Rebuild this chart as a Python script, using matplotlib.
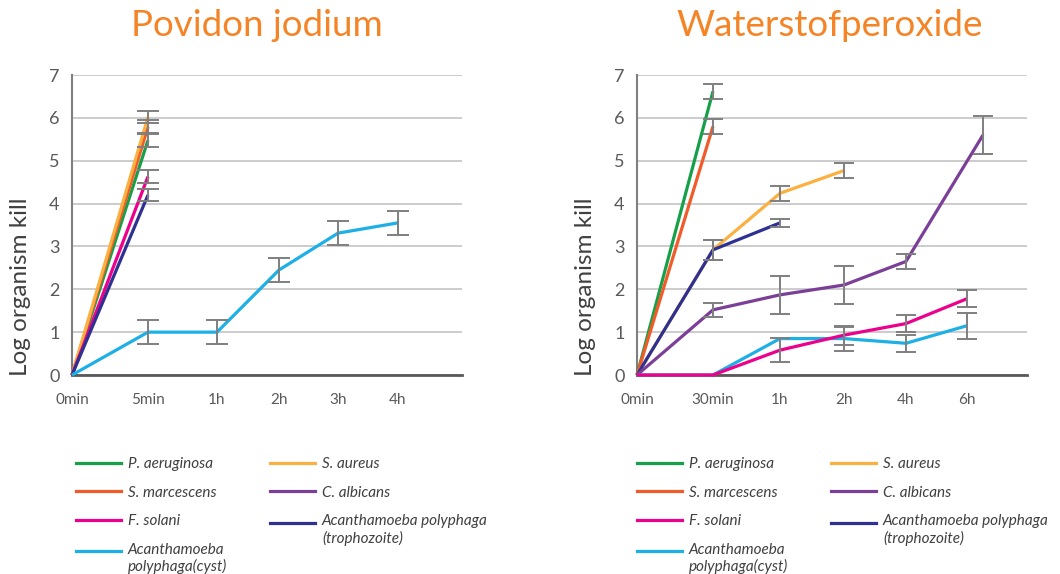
import numpy as np
import matplotlib
matplotlib.use("Agg")
import matplotlib.pyplot as plt
from matplotlib.lines import Line2D
from matplotlib.legend_handler import HandlerLine2D

plt.rcParams['font.family'] = ['Lato', 'DejaVu Sans']

# categories
left_times = ['0min', '5min', '1h', '2h', '3h', '4h']
right_times = ['0min', '30min', '1h', '2h', '4h', '6h']

# series (log kill) and error, per panel
left_aeruginosa = [0, 5.48]
left_aeruginosa_err = [0, 0.15]
left_marcescens = [0, 5.79]
left_marcescens_err = [0, 0.15]
left_solani = [0, 4.63]
left_solani_err = [0, 0.15]
left_trophozoite = [0, 4.2]
left_trophozoite_err = [0, 0.14]
left_aureus = [0, 6.02]
left_aureus_err = [0, 0.15]
left_cyst = [0, 1.0, 1.0, 2.45, 3.31, 3.55]
left_cyst_err = [0, 0.28, 0.28, 0.28, 0.28, 0.28]

right_aeruginosa = [0, 6.62]
right_aeruginosa_err = [0, 0.18]
right_marcescens = [0, 5.8]
right_marcescens_err = [0, 0.17]
right_aureus = [0, 2.92, 4.24, 4.77]
right_aureus_err = [0, 0.23, 0.17, 0.17]
right_trophozoite = [0, 2.92, 3.55]
right_trophozoite_err = [0, 0.23, 0.09]
right_albicans = [0, 1.52, 1.87, 2.1, 2.65, 5.6]
right_albicans_err = [0, 0.17, 0.44, 0.44, 0.17, 0.44]
right_solani = [0, 0, 0.58, 0.93, 1.2, 1.78]
right_solani_err = [0, 0, 0.28, 0.22, 0.2, 0.2]
right_cyst = [0, 0, 0.85, 0.85, 0.74, 1.15]
right_cyst_err = [0, 0, 0, 0.28, 0.2, 0.3]

labels = ['P. aeruginosa', 'S. marcescens', 'F. solani', 'Acanthamoeba\npolyphaga(cyst)',
          'S. aureus', 'C. albicans', 'Acanthamoeba polyphaga\n(trophozoite)']

# layout: horizontal positions of the categories (uneven spacing as in source)
left_pos = [0, 76, 145, 207, 266, 326]
right_pos = [0, 76, 143, 207, 269, 330]
albicans_last_pos = 346

c_green = '#17A04A'
c_red = '#F15A29'
c_pink = '#EC008C'
c_cyan = '#1CB0E6'
c_yellow = '#FBB040'
c_purple = '#7B3F98'
c_navy = '#2E3192'
colors = [c_green, c_red, c_pink, c_cyan, c_yellow, c_purple, c_navy]

fig = plt.figure(figsize=(10.6, 5.74), dpi=100)
W, H = 1060, 574
ax1 = fig.add_axes([72 / W, 1 - 375 / H, 390 / W, 300 / H])
ax2 = fig.add_axes([637 / W, 1 - 375 / H, 390 / W, 300 / H])


def draw(ax, x, y, err, color, cap):
    ax.plot(x, y, color=color, lw=2.3, solid_capstyle='butt', zorder=3, clip_on=False)
    x = np.array(x)[1:]
    y = np.array(y)[1:]
    e = np.array(err)[1:]
    m = e > 0
    ax.errorbar(x[m], y[m], yerr=e[m], fmt='none', ecolor='#7F7F7F', elinewidth=1.4,
                capsize=cap, capthick=1.4, zorder=4, clip_on=False)


# left panel
lp = left_pos
draw(ax1, lp[:2], left_aeruginosa, left_aeruginosa_err, c_green, 8)
draw(ax1, lp[:2], left_marcescens, left_marcescens_err, c_red, 8)
draw(ax1, lp[:2], left_aureus, left_aureus_err, c_yellow, 8)
draw(ax1, lp[:2], left_solani, left_solani_err, c_pink, 8)
draw(ax1, lp[:2], left_trophozoite, left_trophozoite_err, c_navy, 8)
draw(ax1, lp, left_cyst, left_cyst_err, c_cyan, 8)

# right panel
rp = right_pos
draw(ax2, rp[:2], right_aeruginosa, right_aeruginosa_err, c_green, 7)
draw(ax2, rp[:2], right_marcescens, right_marcescens_err, c_red, 7)
draw(ax2, rp[:4], right_aureus, right_aureus_err, c_yellow, 7)
draw(ax2, rp[:3], right_trophozoite, right_trophozoite_err, c_navy, 7)
draw(ax2, rp[:5] + [albicans_last_pos], right_albicans, right_albicans_err, c_purple, 7)
draw(ax2, rp, right_cyst, right_cyst_err, c_cyan, 7)
draw(ax2, rp, right_solani, right_solani_err, c_pink, 7)

for ax, pos, ticks in [(ax1, left_pos, left_times), (ax2, right_pos, right_times)]:
    ax.set_xlim(0, 390)
    ax.set_ylim(0, 7)
    ax.set_yticks(range(8))
    ax.set_xticks(pos)
    ax.set_xticklabels(ticks)
    ax.tick_params(axis='y', length=0, pad=9, labelsize=13, labelcolor='#595959')
    ax.tick_params(axis='x', length=0, pad=13, labelsize=11, labelcolor='#595959')
    ax.grid(axis='y', color='#C8C8C8', lw=1.3, zorder=0)
    ax.set_axisbelow(True)
    for s in ['top', 'right']:
        ax.spines[s].set_visible(False)
    ax.spines['left'].set_color('#7F7F7F')
    ax.spines['left'].set_linewidth(1.5)
    ax.spines['bottom'].set_color('#595959')
    ax.spines['bottom'].set_linewidth(2)
    ax.set_ylabel('Log organism kill', fontsize=17.5, color='#404040')
    ax.yaxis.set_label_coords(-0.105, 0.293)

fig.text(257 / W, 1 - 26 / H, 'Povidon jodium', ha='center', va='center',
         fontsize=26.5, color='#F58426')
fig.text(830 / W, 1 - 26 / H, 'Waterstofperoxide', ha='center', va='center',
         fontsize=26.5, color='#F58426')


class TopLineHandler(HandlerLine2D):
    # put the handle next to the first line of a two-line label
    def create_artists(self, legend, orig_handle, xdescent, ydescent,
                       width, height, fontsize, trans):
        return super().create_artists(legend, orig_handle, xdescent,
                                      ydescent - 0.95 * fontsize, width, height,
                                      fontsize, trans)


handles = [Line2D([], [], color=c, lw=2.3) for c in colors]
hmap = {handles[3]: TopLineHandler(), handles[6]: TopLineHandler()}
leg_kw = dict(frameon=False, borderpad=0, handlelength=2.95, handletextpad=0.45,
              labelspacing=0.95, prop={'style': 'italic', 'size': 11},
              labelcolor='#404040', borderaxespad=0, handler_map=hmap)
for x_col1, x_col2 in [(76, 270), (637, 831)]:
    fig.legend(handles[:4], labels[:4], loc='upper left',
               bbox_to_anchor=(x_col1 / W, 1 - 457 / H), **leg_kw)
    fig.legend(handles[4:], labels[4:], loc='upper left',
               bbox_to_anchor=(x_col2 / W, 1 - 457 / H), **leg_kw)

fig.savefig('out.png', dpi=100)
